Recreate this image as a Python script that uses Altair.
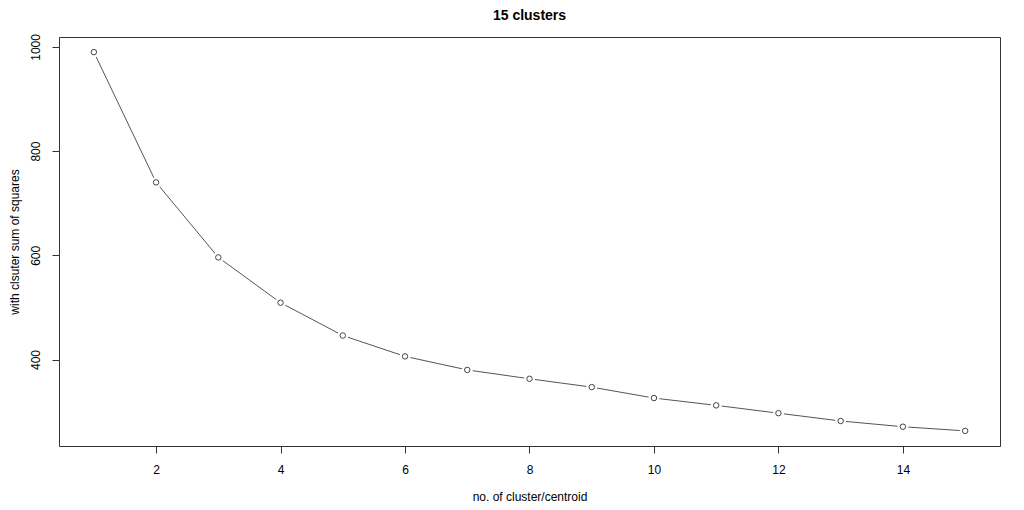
import altair as alt
import pandas as pd

clusters = list(range(1, 16))
wss = [990, 740, 596, 509, 446, 406, 380, 363, 347, 326, 312, 297, 282, 271, 263]
x_ticks = [2, 4, 6, 8, 10, 12, 14]
y_ticks = [400, 600, 800, 1000]

df = pd.DataFrame({"k": clusters, "wss": wss})

FONT = "Liberation Sans"

x = alt.X(
    "k:Q",
    scale=alt.Scale(domain=[0.44, 15.56], nice=False, zero=False),
    axis=alt.Axis(
        values=x_ticks, title="no. of cluster/centroid", grid=False, domain=False,
        tickSize=7, tickColor="#333", tickWidth=1, labelPadding=11, format="d",
        labelFont=FONT, labelFontSize=12, labelColor="#000", labelOverlap=False,
        labelFlush=False,
        titleFont=FONT, titleFontSize=12, titleFontWeight="normal", titleColor="#000",
        titlePadding=16,
    ),
)
y = alt.Y(
    "wss:Q",
    scale=alt.Scale(domain=[234, 1019], nice=False, zero=False),
    axis=alt.Axis(
        values=y_ticks, title="with clsuter sum of squares", grid=False, domain=False,
        tickSize=7, tickColor="#333", tickWidth=1, labelPadding=13, format="d",
        labelAngle=-90, labelAlign="center", labelBaseline="alphabetic",
        labelFont=FONT, labelFontSize=12, labelColor="#000", labelOverlap=False,
        labelFlush=False,
        titleFont=FONT, titleFontSize=12, titleFontWeight="normal", titleColor="#000",
        titlePadding=8,
    ),
)

base = alt.Chart(df).encode(x=x, y=y)

line = base.mark_line(color="#555", strokeWidth=1)
gaps = base.mark_circle(color="white", opacity=1, size=120)
pts = base.mark_point(shape="circle", filled=False, color="#444", strokeWidth=1, size=30, opacity=1)

chart = alt.layer(line, gaps, pts).properties(
    width=941,
    height=409,
    background="white",
    padding={"left": 51, "top": 29, "right": 16, "bottom": 56},
    autosize=alt.AutoSizeParams(type="none"),
    title=alt.TitleParams(
        "15 clusters", font=FONT, fontSize=14, fontWeight="bold", color="#000",
        anchor="middle", offset=11,
    ),
).configure_view(stroke="#333", strokeWidth=1)

chart.save("out.html", embed_options={"renderer": "svg", "actions": False})
